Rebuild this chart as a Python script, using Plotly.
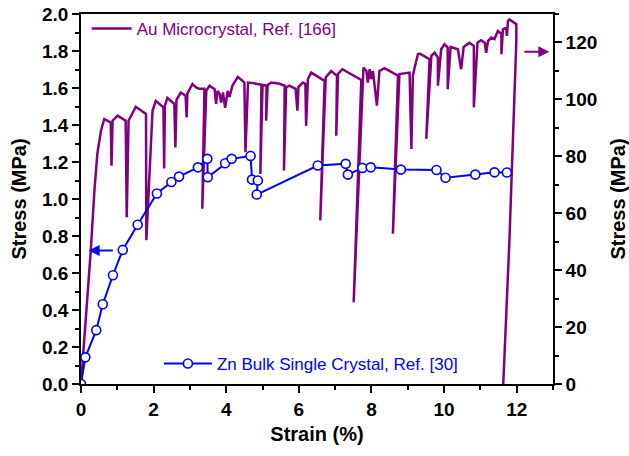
import plotly.graph_objects as go

# ---------------- data ----------------
au_strain = [0, 0.18, 0.27, 0.37, 0.45, 0.55, 0.64, 0.82, 0.84, 0.87,
             1.01, 1.23, 1.26, 1.31, 1.51, 1.79, 1.80, 1.97, 2.06, 2.27,
             2.29, 2.31, 2.38, 2.57, 2.60, 2.63, 2.75, 2.88, 2.91, 2.93,
             3.07, 3.18, 3.26, 3.40, 3.34, 3.45, 3.54, 3.68, 3.72, 3.76,
             3.82, 3.86, 3.91, 3.97, 4.04, 4.09, 4.17, 4.32, 4.50, 4.53,
             4.60, 4.70, 4.97, 4.94, 5.00, 5.11, 5.10, 5.14, 5.24, 5.47,
             5.61, 5.59, 5.65, 5.74, 5.91, 5.96, 5.99, 6.11, 6.18, 6.20,
             6.25, 6.34, 6.71, 6.59, 6.74, 6.89, 7.05, 7.03, 7.08, 7.20,
             7.72, 7.51, 7.78, 7.86, 7.90, 7.95, 7.99, 8.04, 8.15, 8.22,
             8.36, 8.73, 8.59, 8.77, 8.96, 9.05, 9.10, 9.14, 9.19, 9.28,
             9.33, 9.60, 9.51, 9.65, 9.74, 9.83, 9.83, 9.92, 10.01, 10.10,
             10.10, 10.18, 10.38, 10.47, 10.54, 10.70, 10.82, 10.82, 10.92, 11.02,
             11.12, 11.16, 11.21, 11.30, 11.39, 11.48, 11.58, 11.58, 11.62, 11.71,
             11.73, 11.76, 11.80, 11.99, 11.99, 11.80, 11.63]
au_stress = [0, 29.4, 47.0, 68.0, 80.9, 89.0, 93.1, 91.9, 76.7, 92.5,
             94.3, 92.5, 58.6, 92.5, 97.4, 94.9, 50.5, 96.0, 99.5, 97.2,
             75.7, 97.8, 100.5, 98.4, 83.1, 99.8, 102.4, 101.3, 93.7, 102.0,
             105.4, 104.1, 103.7, 103.7, 61.6, 103.0, 104.8, 103.6, 98.4, 103.0,
             101.9, 98.9, 102.4, 97.0, 103.0, 100.9, 104.8, 107.9, 105.9, 81.4,
             105.9, 105.8, 105.1, 73.8, 105.1, 104.8, 92.5, 105.1, 105.9, 105.5,
             104.8, 75.0, 104.2, 104.8, 103.7, 96.0, 104.4, 105.9, 105.4, 90.7,
             107.1, 109.4, 106.5, 57.5, 107.7, 110.0, 108.3, 87.2, 109.0, 110.6,
             106.8, 28.7, 111.2, 110.0, 105.9, 110.6, 107.1, 110.0, 97.8, 110.0,
             111.0, 108.3, 52.8, 108.9, 109.4, 109.4, 82.6, 108.3, 111.2, 115.9,
             116.1, 114.1, 86.1, 115.3, 116.4, 114.7, 104.8, 117.6, 119.4, 118.2,
             103.6, 118.4, 117.6, 110.6, 118.4, 119.9, 118.8, 97.2, 119.9, 120.8,
             119.9, 116.4, 120.5, 121.7, 121.2, 124.0, 123.0, 115.9, 124.6, 125.2,
             122.3, 127.5, 128.1, 126.4, 120.5, 50.5, 0]

zn_strain = [0, 0.12, 0.42, 0.60, 0.88, 1.15, 1.56, 2.09, 2.49, 2.70,
             3.22, 3.48, 3.49, 3.97, 4.15, 4.67, 4.71, 4.87, 4.84, 6.52,
             7.29, 7.35, 7.75, 7.98, 8.81, 9.79, 10.04, 10.86, 11.39, 11.73]
zn_stress = [0, 0.144, 0.291, 0.431, 0.588, 0.725, 0.861, 1.030, 1.092, 1.121,
             1.171, 1.217, 1.118, 1.193, 1.217, 1.233, 1.105, 1.100, 1.024, 1.181,
             1.190, 1.132, 1.168, 1.171, 1.159, 1.157, 1.115, 1.132, 1.144, 1.143]

au_name = "Au Microcrystal, Ref. [166]"
zn_name = "Zn Bulk Single Crystal, Ref. [30]"

# arrow anchors (data coordinates)
zn_arrow_x = [0.92, 0.21]
zn_arrow_y = 0.722
au_arrow_x = [12.17, 12.9]
au_arrow_y = 116.7

PURPLE = "#800080"
BLUE = "#0000FF"
FONT = "Liberation Sans, Arial, sans-serif"

fig = go.Figure()

fig.add_trace(go.Scatter(
    x=au_strain, y=au_stress, mode="lines", name=au_name,
    line=dict(color=PURPLE, width=2.5), yaxis="y", legend="legend",
))
fig.add_trace(go.Scatter(
    x=zn_strain, y=zn_stress, mode="lines+markers", name=zn_name,
    line=dict(color=BLUE, width=2),
    marker=dict(symbol="circle", size=9, color="white",
                line=dict(color=BLUE, width=1.6)),
    yaxis="y2", legend="legend2",
))

tickfont = dict(family=FONT, size=19, color="black", weight="bold")
titlefont = dict(family=FONT, size=20, color="black", weight="bold")

axis_common = dict(
    showline=True, linecolor="black", linewidth=1.6,
    ticks="outside", ticklen=7, tickwidth=1.6, tickcolor="black",
    showgrid=False, zeroline=False, tickfont=tickfont, automargin=False,
)

fig.update_layout(
    width=629, height=456,
    margin=dict(l=81, r=76, t=13, b=72),
    paper_bgcolor="white", plot_bgcolor="white",
    font=dict(family=FONT),
    xaxis=dict(range=[0, 13], dtick=2, tick0=0, mirror=True,
               minor=dict(dtick=1, ticklen=4, tickwidth=1.6, tickcolor="black", ticks="outside"),
               title=dict(text="Strain (%)", font=titlefont, standoff=8),
               **axis_common),
    yaxis=dict(range=[0, 130], dtick=20, tick0=0, side="right",
               minor=dict(dtick=10, ticklen=4, tickwidth=1.6, tickcolor="black", ticks="outside"),
               title=dict(text="Stress (MPa)", font=titlefont, standoff=17),
               **axis_common),
    yaxis2=dict(range=[0, 2], dtick=0.2, tick0=0, tickformat=".1f", side="left",
                overlaying="y",
                minor=dict(dtick=0.1, ticklen=4, tickwidth=1.6, tickcolor="black", ticks="outside"),
                title=dict(text="Stress (MPa)", font=titlefont, standoff=10),
                **axis_common),
    legend=dict(x=0.012, y=0.957, xanchor="left", yanchor="middle",
                bgcolor="rgba(0,0,0,0)", itemwidth=40,
                font=dict(family=FONT, size=17, color=PURPLE)),
    legend2=dict(x=0.165, y=0.054, xanchor="left", yanchor="middle",
                 bgcolor="rgba(0,0,0,0)", itemwidth=48,
                 font=dict(family=FONT, size=17, color=BLUE)),
    showlegend=True,
)

fig.add_annotation(x=zn_arrow_x[1], y=zn_arrow_y, ax=zn_arrow_x[0], ay=zn_arrow_y,
                   xref="x", yref="y2", axref="x", ayref="y2",
                   showarrow=True, arrowhead=2, arrowsize=1.1, arrowwidth=2,
                   arrowcolor=BLUE, text="")
fig.add_annotation(x=au_arrow_x[1], y=au_arrow_y, ax=au_arrow_x[0], ay=au_arrow_y,
                   xref="x", yref="y", axref="x", ayref="y",
                   showarrow=True, arrowhead=2, arrowsize=1.1, arrowwidth=2,
                   arrowcolor=PURPLE, text="")

fig.write_html("out.html")
